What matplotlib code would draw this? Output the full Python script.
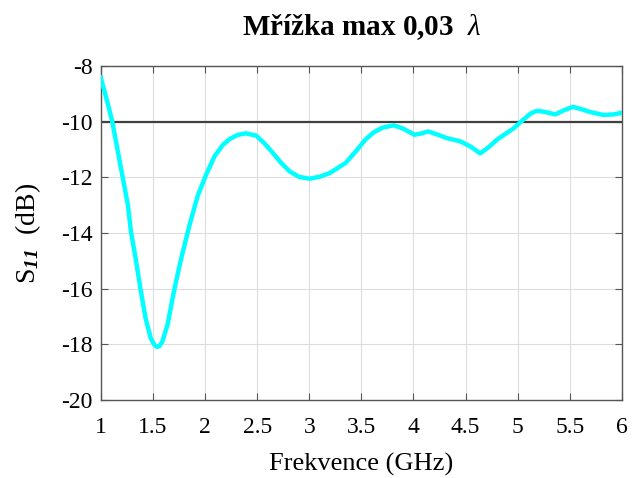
import matplotlib
matplotlib.use('Agg')
import matplotlib.pyplot as plt

# S11
freq = [1.00, 1.064, 1.11, 1.16, 1.21, 1.26, 1.29, 1.335, 1.38, 1.43, 1.48, 1.515, 1.54,
        1.565, 1.59, 1.64, 1.70, 1.77, 1.85, 1.93, 2.01, 2.09, 2.17, 2.23, 2.31, 2.39,
        2.49, 2.57, 2.65, 2.73, 2.81, 2.90, 3.00, 3.10, 3.20, 3.35, 3.45, 3.54, 3.62,
        3.70, 3.81, 3.90, 4.01, 4.08, 4.14, 4.22, 4.32, 4.45, 4.55, 4.64, 4.72, 4.80,
        4.96, 5.05, 5.12, 5.18, 5.26, 5.36, 5.45, 5.53, 5.61, 5.69, 5.82, 5.92, 6.00]
s11 = [-8.42, -9.31, -10.00, -11.00, -12.00, -13.00, -13.97, -14.93, -16.00, -17.07,
       -17.79, -18.02, -18.09, -18.05, -17.90, -17.30, -16.12, -14.93, -13.73, -12.66,
       -11.91, -11.25, -10.84, -10.64, -10.48, -10.42, -10.50, -10.78, -11.12, -11.48,
       -11.78, -11.98, -12.05, -11.98, -11.84, -11.48, -11.05, -10.64, -10.38, -10.22,
       -10.13, -10.25, -10.47, -10.42, -10.35, -10.45, -10.59, -10.71, -10.90, -11.14,
       -10.92, -10.65, -10.24, -9.94, -9.72, -9.61, -9.65, -9.74, -9.58, -9.47, -9.55,
       -9.65, -9.76, -9.74, -9.68]
limit = -10

xticks = [1, 1.5, 2, 2.5, 3, 3.5, 4, 4.5, 5, 5.5, 6]
xticklabels = ['1', '1.5', '2', '2.5', '3', '3.5', '4', '4.5', '5', '5.5', '6']
yticks = [-20, -18, -16, -14, -12, -10, -8]

plt.rcParams['font.family'] = ['Liberation Serif', 'DejaVu Serif']
plt.rcParams['mathtext.fontset'] = 'custom'
plt.rcParams['mathtext.rm'] = 'Liberation Serif'
plt.rcParams['mathtext.it'] = 'Liberation Serif:italic'
plt.rcParams['mathtext.sf'] = 'Liberation Serif:italic:bold'
plt.rcParams['axes.unicode_minus'] = False

fig = plt.figure(figsize=(6.34, 4.78), dpi=100)
ax = fig.add_axes([0.159, 0.163, 0.822, 0.699])

ax.grid(True, color='#dddddd', linewidth=0.8)
ax.set_axisbelow(True)
ax.axhline(limit, color='#404040', linewidth=1.6, zorder=2)
ax.plot(freq, s11, color='#00ffff', linewidth=3.2, zorder=3)

ax.set_xlim(1, 6)
ax.set_ylim(-20, -8)
ax.set_xticks(xticks)
ax.set_xticklabels(xticklabels)
ax.set_yticks(yticks)
ax.tick_params(direction='in', top=True, right=True, labelsize=17,
               color='#555555', length=5)
ax.tick_params(axis='x', pad=12)
ax.tick_params(axis='y', pad=6)
for sp in ax.spines.values():
    sp.set_color('#555555')
    sp.set_linewidth(1.0)

ax.set_xlabel('Frekvence (GHz)', fontsize=19, labelpad=11)
ax.set_ylabel(r'S$_{\mathsf{11}}$  (dB)', fontsize=20, labelpad=13)
ax.set_title('Mřížka max 0,03  $\\lambda$', fontsize=21, fontweight='bold', pad=22)

fig.savefig('out.png', dpi=100)
